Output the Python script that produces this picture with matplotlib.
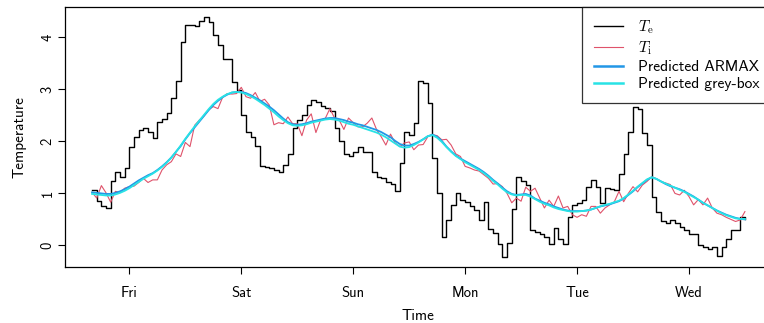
import matplotlib
matplotlib.use("Agg")
import matplotlib.pyplot as plt

plt.rcParams['font.family'] = ['cmss10', 'DejaVu Sans']
plt.rcParams['mathtext.fontset'] = 'cm'
plt.rcParams['axes.unicode_minus'] = False

# hourly samples, starting Thursday 16:00 (hours counted from Friday 00:00)
start_hour = -8

te = [1.06, 0.85, 0.75, 0.71, 1.23, 1.41, 1.31, 1.47, 1.89, 2.07,
      2.21, 2.24, 2.17, 2.05, 2.36, 2.42, 2.54, 2.83, 3.15, 3.91,
      4.22, 4.22, 4.21, 4.31, 4.39, 4.28, 4.03, 3.85, 3.58, 3.58,
      3.13, 2.97, 2.49, 2.18, 2.08, 1.90, 1.51, 1.50, 1.48, 1.44,
      1.40, 1.54, 1.75, 2.24, 2.40, 2.50, 2.69, 2.78, 2.74, 2.67,
      2.64, 2.58, 2.24, 1.99, 1.75, 1.70, 1.79, 1.89, 1.79, 1.79,
      1.40, 1.30, 1.28, 1.21, 1.17, 1.04, 1.57, 2.17, 2.12, 2.34,
      3.16, 3.12, 2.72, 1.68, 1.00, 0.15, 0.48, 0.77, 0.99, 0.87,
      0.82, 0.75, 0.67, 0.47, 0.82, 0.31, 0.22, 0.02, -0.24, 0.03,
      0.69, 1.31, 1.22, 1.15, 0.29, 0.25, 0.20, 0.15, 0.02, 0.33,
      0.12, 0.02, 0.53, 0.77, 0.80, 0.86, 1.11, 1.25, 1.11, 0.80,
      1.09, 1.08, 1.06, 1.36, 1.75, 2.18, 2.65, 2.62, 2.15, 1.92,
      0.93, 0.64, 0.45, 0.42, 0.48, 0.43, 0.35, 0.29, 0.21, 0.20,
      0.00, -0.04, -0.08, -0.04, -0.22, -0.04, 0.12, 0.29, 0.29, 0.53,
      0.50]

ti = [1.01, 0.90, 1.14, 1.00, 0.82, 1.03, 1.01, 1.09, 1.12, 1.13,
      1.20, 1.28, 1.20, 1.25, 1.25, 1.44, 1.54, 1.60, 1.75, 1.70,
      1.97, 1.89, 2.30, 2.40, 2.48, 2.60, 2.66, 2.62, 2.84, 2.91,
      2.90, 2.91, 3.03, 2.85, 2.82, 2.93, 2.76, 2.80, 2.69, 2.31,
      2.35, 2.33, 2.46, 2.33, 2.33, 2.10, 2.40, 2.52, 2.16, 2.40,
      2.43, 2.62, 2.44, 2.40, 2.22, 2.44, 2.35, 2.27, 2.27, 2.34,
      2.44, 2.22, 2.08, 1.92, 2.13, 1.96, 1.89, 1.96, 1.98, 1.83,
      1.92, 1.93, 2.08, 2.12, 2.10, 2.02, 2.03, 1.92, 1.75, 1.70,
      1.51, 1.48, 1.44, 1.42, 1.35, 1.28, 1.17, 1.18, 1.12, 0.99,
      0.81, 0.90, 0.84, 1.11, 1.03, 1.09, 0.90, 0.71, 0.86, 0.74,
      0.94, 0.71, 0.74, 0.58, 0.53, 0.58, 0.55, 0.74, 0.74, 0.61,
      0.71, 0.77, 0.83, 1.03, 0.83, 0.99, 1.12, 1.02, 1.15, 1.22,
      1.31, 1.27, 1.22, 1.19, 1.16, 0.99, 0.96, 1.05, 0.93, 0.77,
      0.87, 0.77, 0.90, 0.71, 0.61, 0.58, 0.53, 0.49, 0.45, 0.48,
      0.64]

pred_armax = [1.01, 1.00, 0.99, 0.98, 0.98, 1.00, 1.03, 1.07, 1.12, 1.18,
              1.24, 1.29, 1.34, 1.38, 1.44, 1.51, 1.59, 1.68, 1.79, 1.90,
              2.03, 2.15, 2.26, 2.37, 2.48, 2.59, 2.69, 2.77, 2.84, 2.89,
              2.93, 2.94, 2.94, 2.92, 2.88, 2.83, 2.78, 2.72, 2.66, 2.59,
              2.51, 2.43, 2.36, 2.32, 2.31, 2.32, 2.34, 2.37, 2.39, 2.41,
              2.43, 2.44, 2.44, 2.42, 2.40, 2.37, 2.35, 2.32, 2.30, 2.27,
              2.24, 2.21, 2.17, 2.12, 2.07, 2.00, 1.94, 1.91, 1.91, 1.94,
              1.98, 2.03, 2.09, 2.12, 2.08, 2.00, 1.89, 1.80, 1.72, 1.66,
              1.61, 1.56, 1.51, 1.46, 1.40, 1.33, 1.25, 1.18, 1.10, 1.03,
              0.98, 0.96, 0.97, 0.98, 0.95, 0.89, 0.85, 0.81, 0.78, 0.74,
              0.71, 0.68, 0.66, 0.65, 0.65, 0.65, 0.66, 0.68, 0.71, 0.74,
              0.76, 0.78, 0.81, 0.84, 0.89, 0.96, 1.03, 1.11, 1.18, 1.25,
              1.30, 1.27, 1.22, 1.17, 1.13, 1.10, 1.07, 1.03, 0.98, 0.93,
              0.87, 0.81, 0.76, 0.71, 0.66, 0.62, 0.58, 0.55, 0.52, 0.50,
              0.49]

pred_greybox = [0.98, 0.97, 0.96, 0.95, 0.95, 0.97, 1.00, 1.04, 1.09, 1.15,
                1.21, 1.27, 1.32, 1.37, 1.43, 1.50, 1.58, 1.68, 1.79, 1.91,
                2.04, 2.16, 2.28, 2.39, 2.50, 2.61, 2.71, 2.79, 2.85, 2.90,
                2.93, 2.94, 2.93, 2.90, 2.86, 2.81, 2.75, 2.69, 2.62, 2.55,
                2.47, 2.40, 2.34, 2.30, 2.29, 2.30, 2.32, 2.35, 2.37, 2.39,
                2.41, 2.42, 2.41, 2.39, 2.36, 2.33, 2.31, 2.28, 2.25, 2.22,
                2.19, 2.16, 2.12, 2.07, 2.01, 1.95, 1.89, 1.87, 1.88, 1.92,
                1.97, 2.03, 2.09, 2.11, 2.06, 1.98, 1.88, 1.79, 1.71, 1.65,
                1.59, 1.54, 1.49, 1.44, 1.38, 1.31, 1.23, 1.16, 1.08, 1.01,
                0.97, 0.95, 0.96, 0.96, 0.93, 0.88, 0.83, 0.79, 0.76, 0.72,
                0.69, 0.67, 0.65, 0.64, 0.64, 0.65, 0.66, 0.68, 0.71, 0.74,
                0.77, 0.79, 0.82, 0.85, 0.90, 0.97, 1.04, 1.12, 1.19, 1.26,
                1.30, 1.27, 1.22, 1.18, 1.14, 1.10, 1.06, 1.02, 0.97, 0.92,
                0.87, 0.81, 0.76, 0.71, 0.66, 0.61, 0.57, 0.54, 0.51, 0.50,
                0.50]

day_labels = ['Fri', 'Sat', 'Sun', 'Mon', 'Tue', 'Wed']

hours = [start_hour + i for i in range(len(te))]

fig = plt.figure(figsize=(7.64, 3.23), dpi=100)
# the plot box runs a little past the right edge of the canvas
ax = fig.add_axes([0.0851, 0.1734, 0.9241, 0.805])

ax.plot(hours, te, color='black', lw=1.0, drawstyle='steps-post',
        label=r'$T_\mathrm{e}$')
ax.plot(hours, ti, color='#DF536B', lw=0.8, label=r'$T_\mathrm{i}$')
ax.plot(hours, pred_armax, color='#2297E6', lw=1.3, label='Predicted ARMAX')
ax.plot(hours, pred_greybox, color='#28E2E5', lw=1.3, label='Predicted grey-box')

ax.set_xlim(-13.8, 137.6)
ax.set_ylim(-0.425, 4.575)

ax.set_xticks([24 * i for i in range(len(day_labels))])
ax.set_xticklabels(day_labels)
ax.set_yticks([0, 1, 2, 3, 4])
ax.set_yticklabels(['0', '1', '2', '3', '4'], rotation=90, va='center')
ax.tick_params(direction='out', length=5, width=0.8, labelsize=10.5)
ax.tick_params(axis='x', pad=9)
ax.tick_params(axis='y', pad=2.5)

for s in ax.spines.values():
    s.set_linewidth(0.9)

ax.set_xlabel('Time', fontsize=11, labelpad=6)
ax.set_ylabel('Temperature', fontsize=11, labelpad=10)

leg = ax.legend(loc='upper right', fontsize=11.2, frameon=True, fancybox=False,
                borderaxespad=0, handlelength=1.9, handletextpad=0.95,
                labelspacing=0.2, borderpad=0.75)
leg.get_frame().set_edgecolor('black')
leg.get_frame().set_linewidth(0.9)
for h in leg.get_lines()[2:]:
    h.set_linewidth(1.8)

fig.savefig('out.png', dpi=100)
